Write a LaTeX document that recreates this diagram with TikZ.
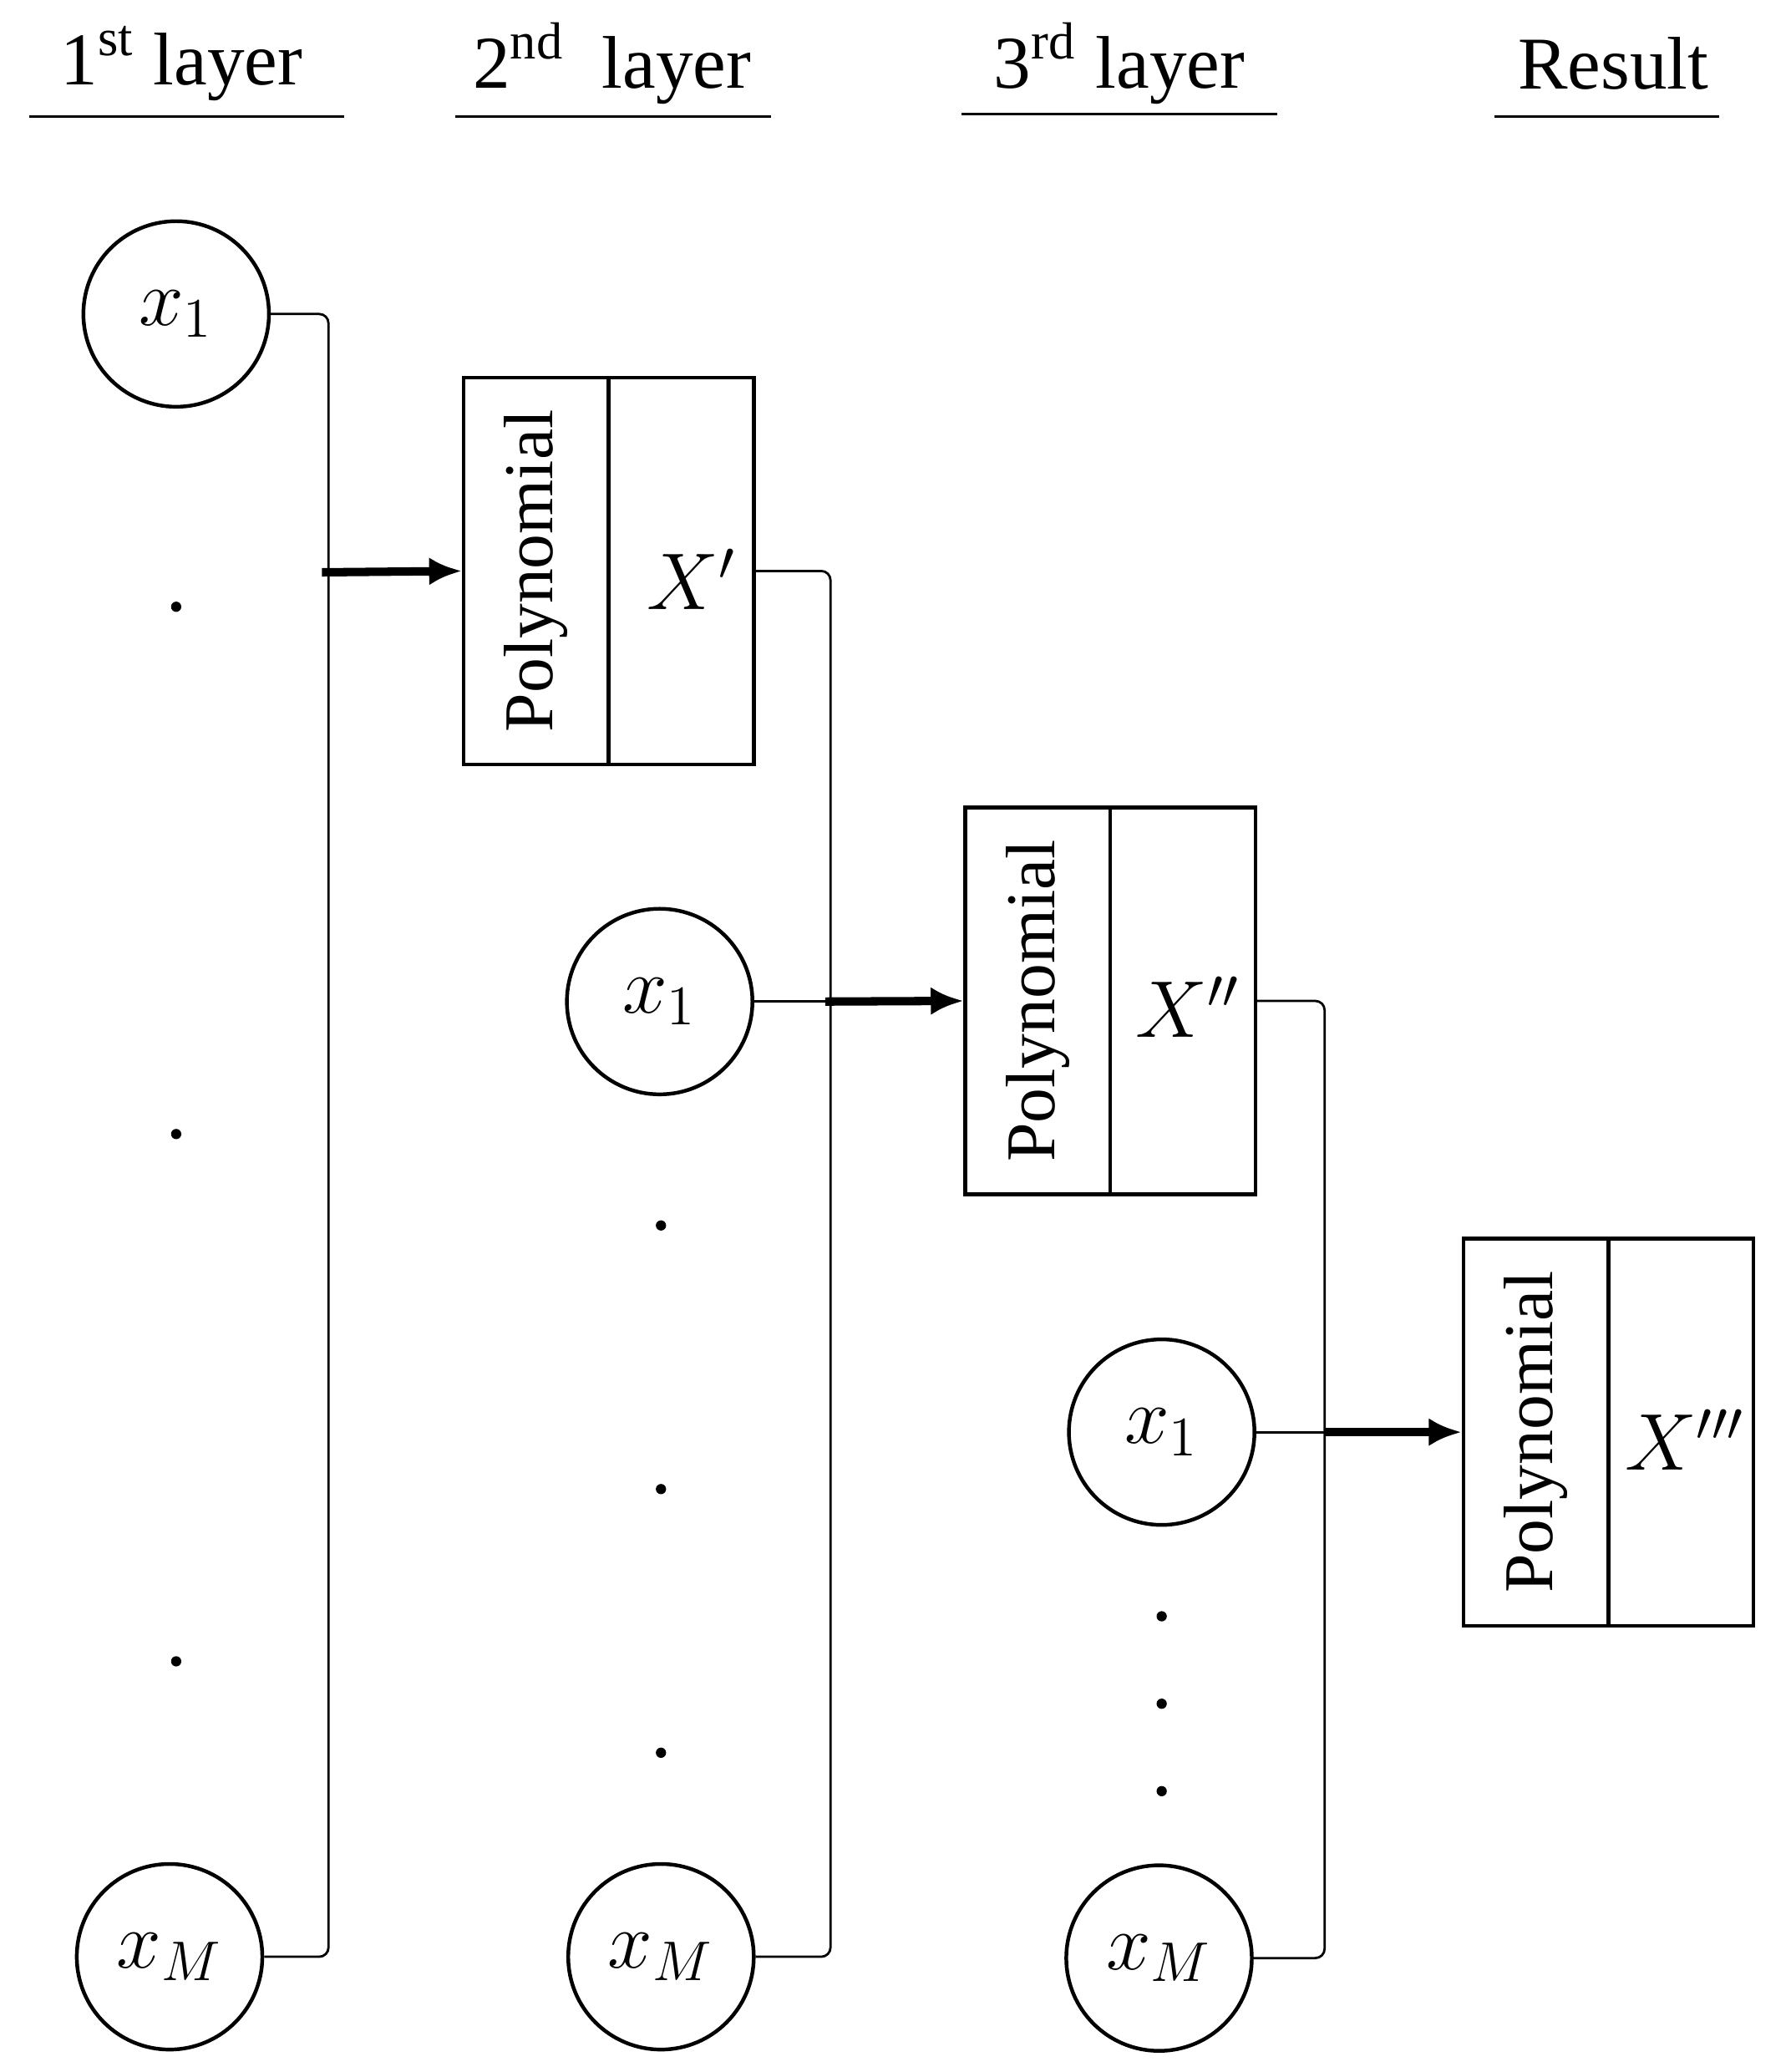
\documentclass[tikz,border=0pt]{standalone}
\usepackage{fontspec}
\setmainfont{Liberation Serif}
\usetikzlibrary{arrows.meta}
\begin{document}
\begin{tikzpicture}[x=0.01cm,y=-0.01cm,
  inp/.style={circle,draw,line width=0.8pt,minimum size=1.4cm,inner sep=0pt,font=\fontsize{17}{17}\selectfont},
  half/.style={draw,line width=0.8pt,minimum width=1.095cm,minimum height=2.92cm,inner sep=0pt},
  poly/.style={rotate=90,font=\fontsize{15}{15}\selectfont},
  hdr/.style={font=\fontsize{16}{16}\selectfont},
  con/.style={line width=0.5pt,rounded corners=2pt},
  arr/.style={line width=1.8pt,-{Latex[length=7pt,width=6pt]}},
  dot/.style={circle,fill,inner sep=0pt,minimum size=2.2pt}]
\useasboundingbox (0,0) rectangle (1352,1564);
% headers
\node[hdr] (h1) at (137,48) {1\textsuperscript{st} layer};
\node[hdr] (h2) at (462,48) {2\textsuperscript{nd}\ \ layer};
\node[hdr] (h3) at (845,48) {3\textsuperscript{rd} layer};
\node[hdr] (h4) at (1218,48) {Result};
\draw[line width=0.6pt] (22,88) -- (260,88) (344,88) -- (582,88) (726,86) -- (964,86) (1128,88) -- (1298,88);
% layer 1
\node[inp] (a1) at (133,237) {$x_1$};
\node[inp] (aM) at (128,1477) {$x_M$};
\node[dot] (ad1) at (133,458) {};
\node[dot] (ad2) at (133,856) {};
\node[dot] (ad3) at (133,1254) {};
\node[half] (p1l) at (404.75,431) {};
\node[half] (p1r) at (514.25,431) {};
\node[poly] at (p1l) {Polynomial};
\node[font=\fontsize{17}{17}\selectfont] at (522,437) {$X'$};
\coordinate (j1) at (248,900);
\coordinate (s1) at (243,432);
\draw[con] (a1.east) -| (j1) |- (aM.east);
\draw[arr] (s1) -- (p1l.west);
% layer 2
\node[inp] (b1) at (498,756) {$x_1$};
\node[inp] (bM) at (499,1477) {$x_M$};
\node[dot] (bd1) at (499,925) {};
\node[dot] (bd2) at (499,1124) {};
\node[dot] (bd3) at (499,1323) {};
\coordinate (j2) at (627,1000);
\draw[con] (p1r.east) -| (j2) |- (bM.east);
\draw[con] (b1.east) -- (627,756);
\node[half] (p2l) at (783.5,755.5) {};
\node[half] (p2r) at (893,755.5) {};
\node[poly] at (p2l) {Polynomial};
\node[font=\fontsize{17}{17}\selectfont] at (897,760) {$X''$};
\coordinate (s2) at (623,756);
\draw[arr] (s2) -- (p2l.west);
% layer 3
\node[inp] (c1) at (877,1081) {$x_1$};
\node[inp] (cM) at (875,1478) {$x_M$};
\node[dot] (cd1) at (877,1220) {};
\node[dot] (cd2) at (877,1286) {};
\node[dot] (cd3) at (877,1352) {};
\coordinate (j3) at (1000,1200);
\draw[con] (p2r.east) -| (j3) |- (cM.east);
\draw[con] (c1.east) -- (1000,1081);
\node[half] (p3l) at (1159.5,1081) {};
\node[half] (p3r) at (1269,1081) {};
\node[poly] at (p3l) {Polynomial};
\node[font=\fontsize{17}{17}\selectfont] at (1272,1087) {$X'''$};
\coordinate (s3) at (1000,1081);
\draw[arr] (s3) -- (p3l.west);
\end{tikzpicture}
\end{document}
